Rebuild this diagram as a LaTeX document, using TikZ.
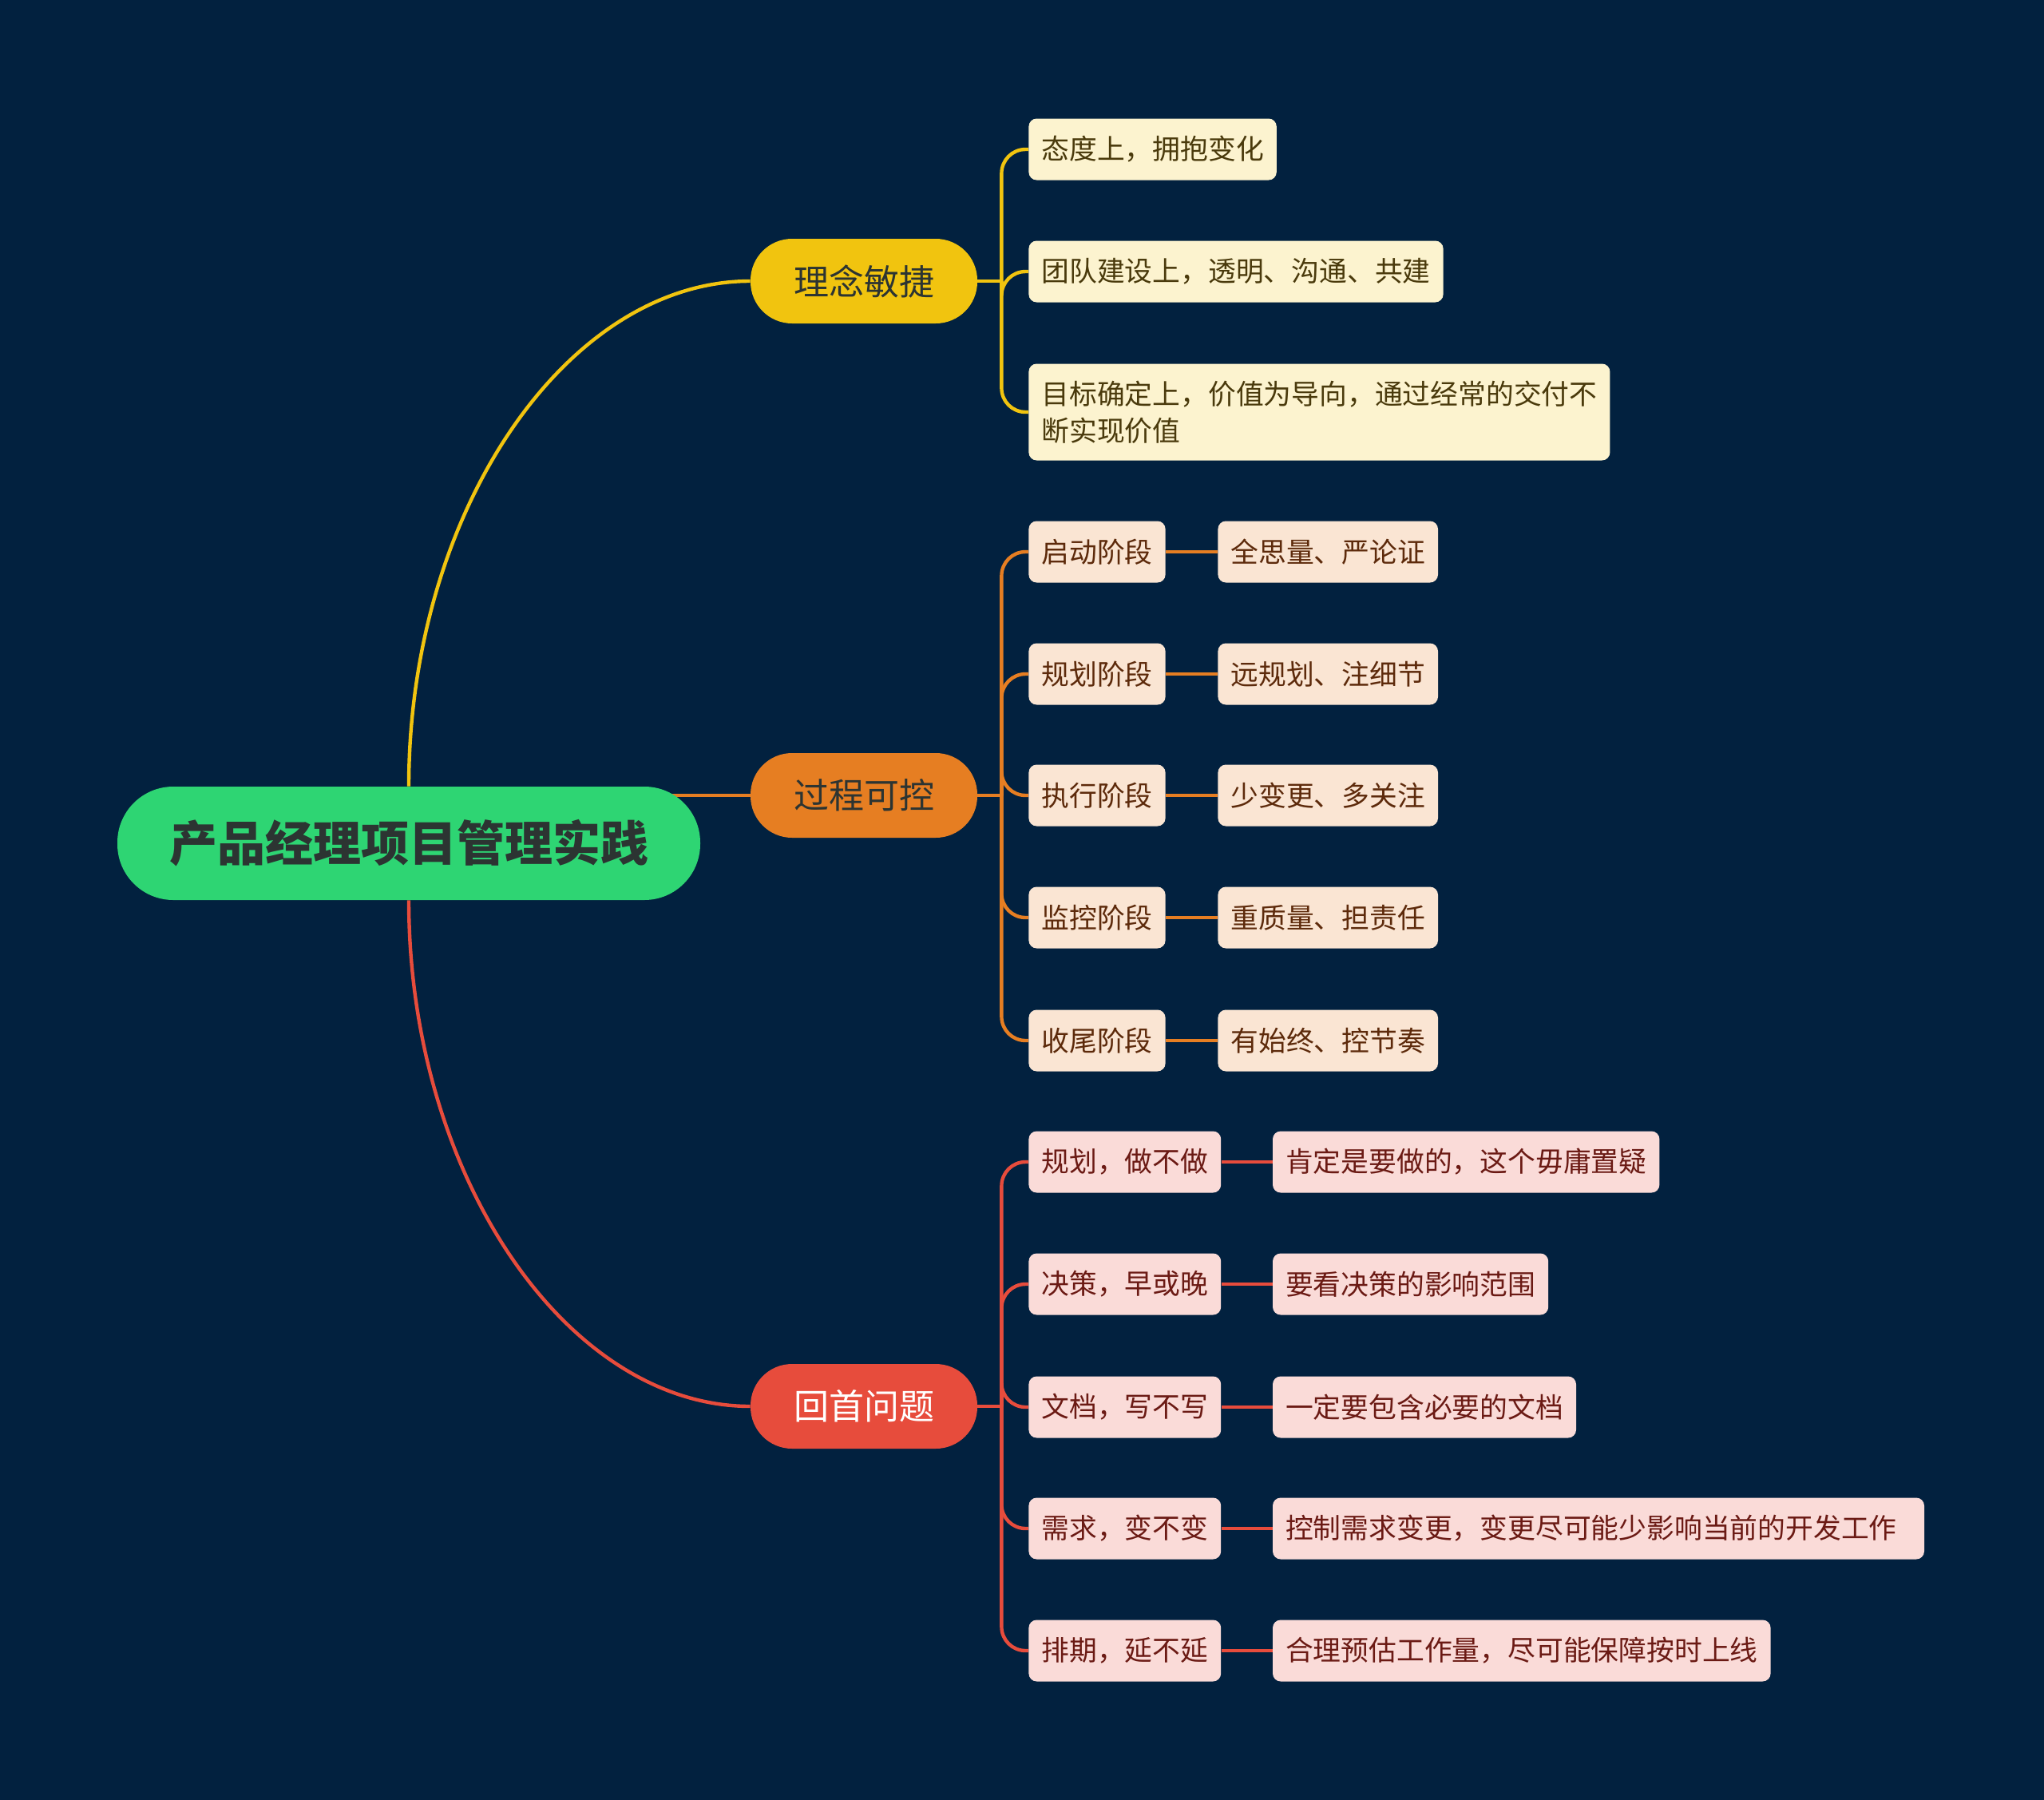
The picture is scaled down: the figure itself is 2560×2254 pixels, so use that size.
\documentclass[tikz,border=0pt]{standalone}
\usepackage{fontspec}
\setmainfont{Noto Sans CJK SC}
\usepackage{tikz}
\usetikzlibrary{positioning}
\usepackage{xcolor}
\definecolor{bgcolor}{RGB}{2,33,63}
\definecolor{rootcolor}{RGB}{46,213,115}
\definecolor{roottext}{RGB}{44,52,50}
\definecolor{ideacolor}{RGB}{241,196,15}
\definecolor{proccolor}{RGB}{230,126,34}
\definecolor{reviewcolor}{RGB}{231,76,60}
\definecolor{idealeaf}{RGB}{252,243,207}
\definecolor{procleaf}{RGB}{250,229,211}
\definecolor{reviewleaf}{RGB}{250,219,216}
\definecolor{ideatext}{RGB}{74,58,12}
\definecolor{proctext}{RGB}{93,42,11}
\definecolor{reviewtext}{RGB}{107,26,20}
\pgfdeclarelayer{canvas}
\pgfdeclarelayer{wires}
\pgfsetlayers{canvas,wires,main}

\begin{document}
\begin{tikzpicture}[
    x=0.5pt, y=-0.5pt,
    root/.style={rectangle, rounded corners=35pt, fill=rootcolor, text=roottext, minimum width=365pt, minimum height=71pt, font=\fontsize{30}{35}\selectfont\bfseries},
    branch/.style={rectangle, rounded corners=26pt, minimum width=142pt, minimum height=53pt, font=\fontsize{22}{26}\selectfont},
    leaf/.style={rectangle, rounded corners=5pt, minimum height=38.5pt, inner xsep=8pt, font=\fontsize{17.4}{23}\selectfont},
    link/.style={line width=2.2pt},
    spine/.style={line width=2.2pt, rounded corners=15pt}
]
\useasboundingbox (0,0) rectangle (2560,2254);
\begin{pgfonlayer}{canvas}
\fill[bgcolor] (0,0) rectangle (2560,2254);
\end{pgfonlayer}

\node[root] (root) at (512,1056) {产品经理项目管理实践};

\node[branch, fill=ideacolor, text=roottext] (idea) at (1082,352) {理念敏捷};
\node[branch, fill=proccolor, text=roottext] (proc) at (1082,996) {过程可控};
\node[branch, fill=reviewcolor, text=white] (review) at (1082,1761) {回首问题};

% 理念敏捷
\node[leaf, anchor=west, fill=idealeaf, text=ideatext] (i1) at (1288,187) {态度上，拥抱变化};
\node[leaf, anchor=west, fill=idealeaf, text=ideatext] (i2) at (1288,340) {团队建设上，透明、沟通、共建};
\node[leaf, anchor=west, fill=idealeaf, text=ideatext, align=left, minimum height=60.5pt] (i3) at (1288,516) {目标确定上，价值为导向，通过经常的交付不\\断实现价值};

% 过程可控
\node[leaf, anchor=west, fill=procleaf, text=proctext] (p1) at (1288,691) {启动阶段};
\node[leaf, anchor=west, fill=procleaf, text=proctext] (p2) at (1288,844) {规划阶段};
\node[leaf, anchor=west, fill=procleaf, text=proctext] (p3) at (1288,996) {执行阶段};
\node[leaf, anchor=west, fill=procleaf, text=proctext] (p4) at (1288,1149) {监控阶段};
\node[leaf, anchor=west, fill=procleaf, text=proctext] (p5) at (1288,1303) {收尾阶段};
\node[leaf, fill=procleaf, text=proctext, right=32.5pt of p1] (p1a) {全思量、严论证};
\node[leaf, fill=procleaf, text=proctext, right=32.5pt of p2] (p2a) {远规划、注细节};
\node[leaf, fill=procleaf, text=proctext, right=32.5pt of p3] (p3a) {少变更、多关注};
\node[leaf, fill=procleaf, text=proctext, right=32.5pt of p4] (p4a) {重质量、担责任};
\node[leaf, fill=procleaf, text=proctext, right=32.5pt of p5] (p5a) {有始终、控节奏};

% 回首问题
\node[leaf, anchor=west, fill=reviewleaf, text=reviewtext] (r1) at (1288,1455) {规划，做不做};
\node[leaf, anchor=west, fill=reviewleaf, text=reviewtext] (r2) at (1288,1608) {决策，早或晚};
\node[leaf, anchor=west, fill=reviewleaf, text=reviewtext] (r3) at (1288,1762) {文档，写不写};
\node[leaf, anchor=west, fill=reviewleaf, text=reviewtext] (r4) at (1288,1914) {需求，变不变};
\node[leaf, anchor=west, fill=reviewleaf, text=reviewtext] (r5) at (1288,2067) {排期，延不延};
\node[leaf, fill=reviewleaf, text=reviewtext, right=32pt of r1] (r1a) {肯定是要做的，这个毋庸置疑};
\node[leaf, fill=reviewleaf, text=reviewtext, right=32pt of r2] (r2a) {要看决策的影响范围};
\node[leaf, fill=reviewleaf, text=reviewtext, right=32pt of r3] (r3a) {一定要包含必要的文档};
\node[leaf, fill=reviewleaf, text=reviewtext, right=32pt of r4, text width=392pt, align=left] (r4a) {控制需求变更，变更尽可能少影响当前的开发工作};
\node[leaf, fill=reviewleaf, text=reviewtext, right=32pt of r5] (r5a) {合理预估工作量，尽可能保障按时上线};

\begin{pgfonlayer}{wires}
% root to branches
\draw[link, ideacolor] (root.north) .. controls (512,640) and (710,352) .. (idea.west);
\draw[link, proccolor] (root.center |- proc) -- (proc.west);
\draw[link, reviewcolor] (root.south) .. controls (512,1472) and (710,1761) .. (review.west);

% branch to leaves
\draw[link, ideacolor] (idea.east) -- ++(15pt,0) coordinate (ideafork);
\draw[spine, ideacolor] (ideafork) |- (i1.west);
\draw[spine, ideacolor] (ideafork) |- (i2.west);
\draw[spine, ideacolor] (ideafork) |- (i3.west);

\draw[link, proccolor] (proc.east) -- ++(15pt,0) coordinate (procfork);
\draw[spine, proccolor] (procfork) |- (p1.west);
\draw[spine, proccolor] (procfork) |- (p2.west);
\draw[spine, proccolor] (procfork) |- (p3.west);
\draw[spine, proccolor] (procfork) |- (p4.west);
\draw[spine, proccolor] (procfork) |- (p5.west);
\draw[link, proccolor] (p1) -- (p1a);
\draw[link, proccolor] (p2) -- (p2a);
\draw[link, proccolor] (p3) -- (p3a);
\draw[link, proccolor] (p4) -- (p4a);
\draw[link, proccolor] (p5) -- (p5a);

\draw[link, reviewcolor] (review.east) -- ++(15pt,0) coordinate (reviewfork);
\draw[spine, reviewcolor] (reviewfork) |- (r1.west);
\draw[spine, reviewcolor] (reviewfork) |- (r2.west);
\draw[spine, reviewcolor] (reviewfork) |- (r3.west);
\draw[spine, reviewcolor] (reviewfork) |- (r4.west);
\draw[spine, reviewcolor] (reviewfork) |- (r5.west);
\draw[link, reviewcolor] (r1) -- (r1a);
\draw[link, reviewcolor] (r2) -- (r2a);
\draw[link, reviewcolor] (r3) -- (r3a);
\draw[link, reviewcolor] (r4) -- (r4a);
\draw[link, reviewcolor] (r5) -- (r5a);
\end{pgfonlayer}
\end{tikzpicture}
\end{document}
